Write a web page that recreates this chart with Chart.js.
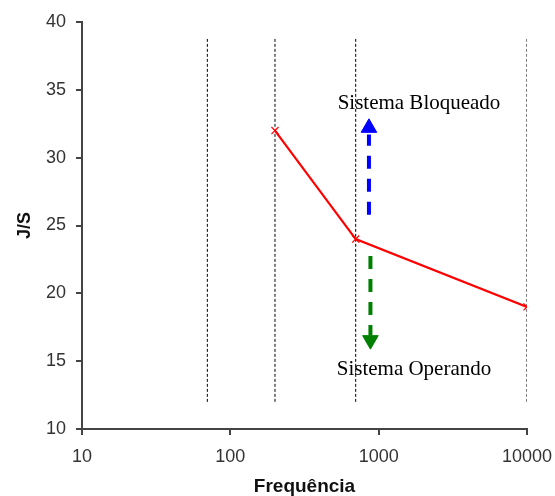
<!DOCTYPE html>
<html>
<head>
<meta charset="utf-8">
<script src="https://cdn.jsdelivr.net/npm/chart.js@4/dist/chart.umd.min.js"></script>
<style>
  html, body { margin: 0; padding: 0; background: #fff; }
  #wrap { width: 555px; height: 496px; }
</style>
</head>
<body>
<div id="wrap"><canvas id="freqChart" width="555" height="496"></canvas></div>
<script>
// values
const xTickValues = [10, 100, 1000, 10000];
const curveFreq = [200, 700, 10000];
const curveJS = [32, 24, 19];
const dividerFreq = [70, 200, 700, 10000];
const dividerSpan = [12, 38.75];
const arrowFreq = [860, 880];            // blue, green
const blueShaft = [25.8, 31.7];
const greenShaft = [22.75, 16.9];
const arrowHeadY = [32.2, 16.55];
const noteText = ['Sistema Bloqueado', 'Sistema Operando'];
const noteFreq = [1870, 1730];
const noteY = [33.6, 14.0];

const axisColor = '#444';

const curve = {
    label: 'J/S',
    data: curveFreq.map((f, i) => ({ x: f, y: curveJS[i] })),
    showLine: true,
    borderColor: '#FF0000',
    borderWidth: 2.2,
    pointStyle: 'crossRot',
    pointRadius: 5,
    pointBorderWidth: 1.2,
    pointBorderColor: '#FF0000',
    order: 1
};

const shafts = [
    { data: blueShaft, color: '#0000FF' },
    { data: greenShaft, color: '#008000' }
].map((s, i) => ({
    data: s.data.map(v => ({ x: arrowFreq[i], y: v })),
    showLine: true,
    borderColor: s.color,
    borderWidth: 4,
    borderDash: [13, 10],
    borderCapStyle: 'butt',
    pointRadius: 0,
    order: 2
}));

const heads = ['#0000FF', '#008000'].map((c, i) => ({
    data: [{ x: arrowFreq[i], y: arrowHeadY[i] }],
    pointStyle: 'triangle',
    pointRotation: i === 0 ? 0 : 180,
    pointRadius: 9,
    pointBackgroundColor: c,
    pointBorderColor: c,
    pointBorderWidth: 1,
    order: 2
}));

const dividers = dividerFreq.map(f => ({
    data: dividerSpan.map(v => ({ x: f, y: v })),
    showLine: true,
    borderColor: '#000',
    borderWidth: 1,
    borderDash: [3, 2],
    pointRadius: 0,
    order: 3
}));

const notesPlugin = {
    id: 'notes',
    afterDatasetsDraw(chart) {
        const { ctx, scales: { x, y } } = chart;
        ctx.save();
        ctx.font = '21px "Liberation Serif", "Times New Roman", serif';
        ctx.fillStyle = '#000';
        ctx.textAlign = 'center';
        ctx.textBaseline = 'alphabetic';
        noteText.forEach((t, i) => {
            ctx.fillText(t, x.getPixelForValue(noteFreq[i]), y.getPixelForValue(noteY[i]));
        });
        ctx.restore();
    }
};

new Chart(document.getElementById('freqChart'), {
    type: 'scatter',
    data: { datasets: [curve, ...shafts, ...heads, ...dividers] },
    options: {
        responsive: false,
        animation: false,
        layout: { padding: { top: 22, right: 28, left: 0, bottom: 0 } },
        plugins: { legend: { display: false }, tooltip: { enabled: false } },
        scales: {
            x: {
                type: 'logarithmic',
                min: 10,
                max: 10000,
                afterBuildTicks: s => { s.ticks = xTickValues.map(v => ({ value: v })); },
                afterFit: s => { s.height = 67; s.paddingLeft = 0; s.paddingRight = 0; },
                ticks: {
                    color: '#333',
                    font: { family: '"Liberation Sans", Arial, sans-serif', size: 18 },
                    padding: 11,
                    maxRotation: 0,
                    autoSkip: false,
                    callback: v => String(v)
                },
                grid: { drawOnChartArea: false, drawTicks: true, tickLength: 6, color: axisColor, lineWidth: 2 },
                border: { display: true, color: axisColor, width: 2 },
                title: {
                    display: true,
                    text: 'Frequência',
                    color: '#111',
                    font: { family: '"Liberation Sans", Arial, sans-serif', size: 19, weight: 'bold', lineHeight: 1 },
                    padding: { top: 0, bottom: 0 }
                }
            },
            y: {
                min: 10,
                max: 40,
                afterFit: s => { s.width = 82; s.paddingTop = 0; s.paddingBottom = 0; },
                ticks: {
                    stepSize: 5,
                    color: '#333',
                    font: { family: '"Liberation Sans", Arial, sans-serif', size: 18 },
                    padding: 10
                },
                grid: { drawOnChartArea: false, drawTicks: true, tickLength: 6, color: axisColor, lineWidth: 2 },
                border: { display: true, color: axisColor, width: 2 },
                title: {
                    display: true,
                    text: 'J/S',
                    color: '#111',
                    font: { family: '"Liberation Sans", Arial, sans-serif', size: 18, weight: 'bold' },
                    padding: { top: 14, bottom: 0 }
                }
            }
        }
    },
    plugins: [notesPlugin]
});
</script>
</body>
</html>
